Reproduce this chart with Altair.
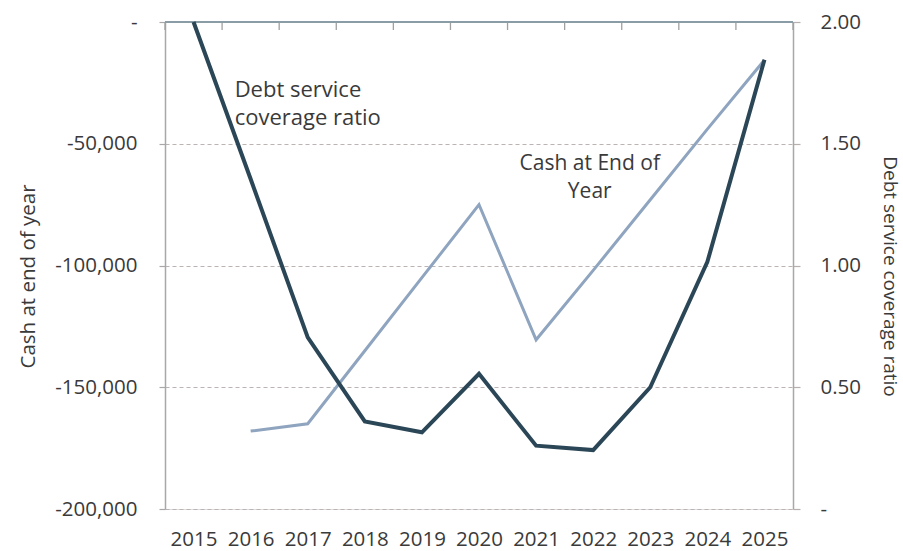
import altair as alt
import pandas as pd

years = [2015, 2016, 2017, 2018, 2019, 2020, 2021, 2022, 2023, 2024, 2025]
# Light line: cash at end of year (left axis); no value for 2015
cash = [None, -168000, -165000, -135000, -105000, -75000, -130500, -102000, -73000, -44000, -15600]
# Dark line: debt service coverage ratio (right axis)
dscr = [2.00, 1.355, 0.705, 0.36, 0.315, 0.555, 0.26, 0.242, 0.50, 1.015, 1.845]

cash_ticks = [-200000, -150000, -100000, -50000, 0]
dscr_ticks = [0, 0.5, 1.0, 1.5, 2.0]
band_edges = [2014.5 + i for i in range(12)]

ann_text = [["Debt service", "coverage ratio"], ["Cash at End of", "Year"]]
ann_x = [2015.72, 2021.94]
ann_y = [-30800, -60800]

FONT = "Open Sans"
TXT = "#3a3a3a"
LBL = 20.5

df_cash = pd.DataFrame({"year": years, "cash": cash}).dropna()
df_dscr = pd.DataFrame({"year": years, "dscr": dscr})
df_ann = pd.DataFrame({"year": ann_x, "cash": ann_y, "t": ann_text})
df_edges = pd.DataFrame({"year": band_edges, "cash": [0.0] * len(band_edges)})
df_top = pd.DataFrame({"x0": [band_edges[0]], "x1": [band_edges[-1]], "cash": [0.0]})

xscale = alt.Scale(domain=[2014.5, 2025.5], nice=False, zero=False)
yscale_cash = alt.Scale(domain=[-200000, 0], nice=False)

x_axis = alt.Axis(values=years, format="d", title=None, domain=False, ticks=False,
                  grid=False, labelFont=FONT, labelFontSize=LBL, labelColor=TXT,
                  labelPadding=20, labelFlush=False)
x_bottom = alt.X("year:Q", scale=xscale, axis=x_axis)

y_axis = alt.Axis(values=cash_ticks,
                  labelExpr="datum.value == 0 ? '-' : replace(format(datum.value, ','), '\u2212', '-')",
                  title="Cash at end of year", titleFont=FONT, titleFontSize=20.5,
                  titleFontWeight="normal", titleColor=TXT, titlePadding=16, titleY=254,
                  labelFont=FONT, labelFontSize=LBL, labelColor=TXT, labelPadding=22,
                  grid=True, gridDash=[4, 3], gridColor="#bcb4b2", gridWidth=1.2,
                  domain=True, domainColor="#a8a8a8", domainWidth=1.5,
                  ticks=True, tickColor="#a8a8a8", tickSize=6, tickWidth=1.2,
                  labelFlush=False)
y_left = alt.Y("cash:Q", scale=yscale_cash, axis=y_axis)

cash_line = alt.Chart(df_cash).mark_line(color="#8ea4bf", strokeWidth=3).encode(
    x=x_bottom, y=y_left
)

# top axis line (value 0), spanning the full plot width
top_rule = alt.Chart(df_top).mark_rule(color="#8a9ca5", strokeWidth=2).encode(
    x=alt.X("x0:Q", scale=xscale, axis=x_axis),
    x2="x1:Q",
    y=y_left,
)

# inward ticks between categories
top_ticks = alt.Chart(df_edges).mark_rule(color="#a0a0a0", strokeWidth=1.3).encode(
    x=x_bottom,
    y=y_left,
    y2=alt.value(8),
)

ann1 = alt.Chart(df_ann.iloc[[0]]).mark_text(
    font=FONT, fontSize=22, color=TXT, baseline="alphabetic", lineHeight=28, align="left"
).encode(x=x_bottom, y=y_left, text="t")
ann2 = alt.Chart(df_ann.iloc[[1]]).mark_text(
    font=FONT, fontSize=21, color=TXT, baseline="alphabetic", lineHeight=28, align="center"
).encode(x=x_bottom, y=y_left, text="t")

left_layer = alt.layer(top_ticks, top_rule, cash_line, ann1, ann2)

dscr_line = alt.Chart(df_dscr).mark_line(color="#2b4757", strokeWidth=4).encode(
    x=x_bottom,
    y=alt.Y(
        "dscr:Q", scale=alt.Scale(domain=[0, 2], nice=False),
        axis=alt.Axis(orient="right", values=dscr_ticks,
                      labelExpr="datum.value == 0 ? '-' : format(datum.value, '.2f')",
                      title="Debt service coverage ratio", titleFont=FONT, titleFontSize=19,
                      titleFontWeight="normal", titleColor=TXT, titlePadding=19, titleY=254,
                      labelFont=FONT, labelFontSize=LBL, labelColor=TXT, labelPadding=20,
                      grid=False, domain=True, domainColor="#a8a8a8", domainWidth=1.5,
                      ticks=True, tickColor="#b8b0ae", tickSize=7, tickWidth=1.2,
                      labelFlush=False),
    ),
)

chart = alt.layer(left_layer, dscr_line).resolve_scale(y="independent").properties(
    width=628, height=487,
    autosize=alt.AutoSizeParams(type="none"),
    padding={"left": 165, "top": 22, "right": 110, "bottom": 42},
).configure_view(stroke=None).configure(background="white")

chart.save("out.html", embed_options={"renderer": "svg", "actions": False})
